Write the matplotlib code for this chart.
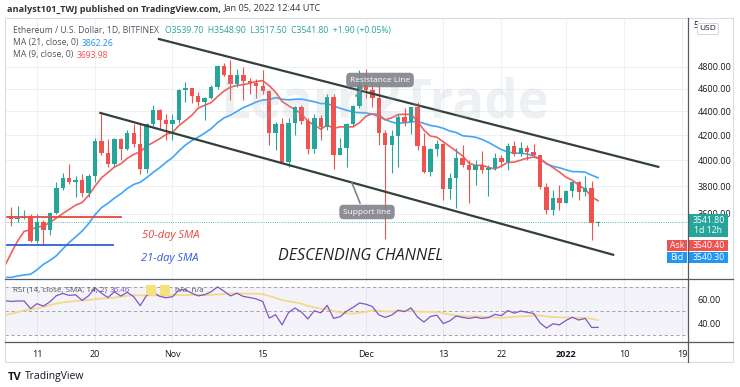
import matplotlib.pyplot as plt
import matplotlib.dates as mdates
import numpy as np
import pandas as pd
from matplotlib.patches import Rectangle
from matplotlib.lines import Line2D
from matplotlib.ticker import NullLocator

plt.rcParams['font.family'] = ['Open Sans', 'DejaVu Sans']

# closes before the visible window (Aug 16 - Oct 6), only used to warm up MA / RSI
warmup_closes = [3150, 3010, 3015, 3180, 3285, 3225, 3240, 3325, 3175, 3225, 3100, 3275,
                 3245, 3225, 3225, 3435, 3835, 3790, 3940, 3890, 3950, 3925, 3430, 3495,
                 3430, 3210, 3265, 3410, 3285, 3430, 3610,
                 3570, 3400, 3430, 3330, 2960, 2760, 3080, 3155, 2930, 2925, 3060,
                 2930, 2810, 2850, 3000, 3310, 3390, 3420, 3385, 3515, 3580]

# ETH/USD daily candles, Oct 7 2021 - Jan 6 2022
start_date = '2021-10-07'
opens = [3588, 3563, 3575, 3576, 3415, 3545, 3492, 3606, 3790, 3866, 3830, 3848, 3748, 3878, 4155, 4055, 3970, 4170, 4085, 4218, 4130, 3930, 4290, 4415, 4325,
         4290, 4325, 4590, 4605, 4535, 4480, 4520, 4620, 4810, 4730, 4640, 4730, 4670, 4650, 4625, 4580, 4215, 4290, 3985, 4300, 4440, 4320, 4090, 4340, 4270, 4525, 4040, 4100, 4295, 4445,
         4630, 4590, 4515, 4220, 4120, 4195, 4355, 4310, 4435, 4115, 3910, 4085, 4130, 3780, 3860, 4020, 3960, 3925, 3960, 3920, 3940, 4020, 3985, 4110, 4045, 4095, 4065, 4040, 3795, 3630, 3715,
         3680, 3765, 3830, 3760, 3790, 3539.7]
highs = [3653, 3657, 3630, 3600, 3600, 3555, 3615, 3830, 3900, 3970, 3880, 3890, 3890, 4180, 4375, 4170, 4175, 4175, 4240, 4290, 4300, 4300, 4460, 4420, 4380,
         4380, 4600, 4665, 4610, 4570, 4530, 4635, 4820, 4840, 4870, 4780, 4800, 4700, 4690, 4770, 4590, 4310, 4340, 4340, 4450, 4460, 4345, 4380, 4370, 4550, 4550, 4180, 4300, 4460, 4770,
         4780, 4650, 4640, 4240, 4240, 4380, 4430, 4440, 4480, 4220, 4100, 4160, 4140, 3900, 4100, 4120, 4000, 4000, 4070, 3960, 4060, 4040, 4140, 4150, 4145, 4120, 4125, 4040, 3825, 3770, 3810,
         3770, 3840, 3840, 3880, 3840, 3548.9]
lows = [3519, 3542, 3563, 3407, 3400, 3390, 3455, 3600, 3775, 3820, 3720, 3720, 3720, 3830, 4040, 3950, 3950, 4000, 4080, 4105, 3890, 3900, 4280, 4250, 4160,
        4160, 4300, 4480, 4470, 4450, 4330, 4510, 4600, 4720, 4500, 4620, 4500, 4550, 4520, 4550, 4120, 4080, 3980, 3950, 4200, 4290, 4050, 4060, 4160, 4240, 3930, 4040, 3950, 4280, 4430,
        4520, 4440, 4120, 3425, 3900, 3950, 4280, 4210, 4080, 3900, 3880, 4030, 3700, 3710, 3640, 3950, 3680, 3810, 3900, 3730, 3920, 3950, 3920, 4030, 4030, 4000, 4030, 3780, 3600, 3590, 3630,
        3680, 3720, 3700, 3730, 3420, 3517.5]
closes = [3563, 3575, 3576, 3415, 3545, 3492, 3606, 3790, 3866, 3830, 3848, 3748, 3878, 4155, 4055, 3970, 4170, 4085, 4218, 4130, 3930, 4290, 4415, 4325, 4290,
          4325, 4590, 4605, 4535, 4480, 4520, 4620, 4810, 4730, 4640, 4730, 4670, 4650, 4625, 4580, 4215, 4290, 3985, 4300, 4440, 4320, 4090, 4340, 4270, 4525, 4040, 4100, 4295, 4445, 4630,
          4590, 4515, 4220, 4120, 4195, 4355, 4310, 4435, 4115, 3910, 4085, 4130, 3780, 3860, 4020, 3960, 3925, 3960, 3920, 3940, 4020, 3985, 4110, 4045, 4095, 4065, 4040, 3795, 3630, 3715, 3680,
          3765, 3830, 3760, 3790, 3540, 3541.8]

price_ticks = [3600, 3800, 4000, 4200, 4400, 4600, 4800]
rsi_ticks = [40, 60]
date_ticks = ['2021-10-11', '2021-10-20', '2021-11-01', '2021-11-15', '2021-12-01',
              '2021-12-13', '2021-12-22', '2022-01-01', '2022-01-10', '2022-01-19']
date_labels = ['11', '20', 'Nov', '15', 'Dec', '13', '22', '2022', '10', '19']

# hand-drawn annotations (date, price)
resistance_line = (['2021-10-29 22:00', '2022-01-15 08:00'], [5070, 3948])
support_line = (['2021-10-20 20:00', '2022-01-08 08:00'], [4387, 3324])
sma50_mark = (['2021-10-06 10:00', '2021-10-24 00:00'], 3580)
sma21_mark = (['2021-10-06 10:00', '2021-10-22 20:00'], 3390)

UP, DOWN = '#26a69a', '#ef5350'
W, H = 740, 387


def rect(x0, y0, x1, y1):
    return [x0 / W, 1 - y1 / H, (x1 - x0) / W, (y1 - y0) / H]


def px(x, y):
    return x / W, 1 - y / H


dates = pd.date_range(start_date, periods=len(closes))
x = mdates.date2num(dates)
o, h, l, c = map(np.array, (opens, highs, lows, closes))

all_close = pd.Series(warmup_closes + closes, dtype=float)
n0 = len(warmup_closes)
all_x = mdates.date2num(pd.date_range(end=dates[-1], periods=len(all_close)))
ma21 = all_close.rolling(21).mean()
ma9 = all_close.rolling(9).mean()
delta = all_close.diff()
up = delta.clip(lower=0).ewm(alpha=1 / 14, adjust=False).mean()
dn = (-delta.clip(upper=0)).ewm(alpha=1 / 14, adjust=False).mean()
rsi = 100 - 100 / (1 + up / dn)
rsi_ma = rsi.rolling(14).mean()

fig = plt.figure(figsize=(7.4, 3.87), dpi=100)
fig.patch.set_facecolor('white')
renderer = fig.canvas.get_renderer()

ax = fig.add_axes(rect(5, 18, 688, 279))
ax_rsi = fig.add_axes(rect(5, 279, 688, 342), sharex=ax)

x0 = mdates.date2num(pd.Timestamp('2021-10-11')) - 4.96
ax.set_xlim(x0, x0 + 105.9)
ax.set_yscale('log')
ax.set_ylim(3170, 5283)

# grid
for t in mdates.date2num(pd.to_datetime(date_ticks)):
    ax.axvline(t, color='#eef0f3', lw=0.7, zorder=0)
    ax_rsi.axvline(t, color='#eef0f3', lw=0.7, zorder=0)
for p in price_ticks:
    ax.axhline(p, color='#eef0f3', lw=0.7, zorder=0)

# candles
colors = np.where(c >= o, UP, DOWN)
ax.vlines(x, l, h, colors=colors, lw=0.8, zorder=3)
body_lo = np.minimum(o, c)
body_h = np.maximum(np.abs(c - o), c * 0.0012)
ax.bar(x, body_h, bottom=body_lo, width=0.68, color=colors, zorder=4, linewidth=0)

# moving averages
ax.plot(all_x[n0 - 1:], ma21[n0 - 1:], color='#42a5f5', lw=1.2, zorder=2)
ax.plot(all_x[n0 - 1:], ma9[n0 - 1:], color='#f0605d', lw=1.2, zorder=2)
ax.axhline(closes[-1], color=UP, lw=0.6, ls=':', zorder=1)

# annotations
ax.plot(pd.to_datetime(resistance_line[0]), resistance_line[1], color='#33403b', lw=1.6, zorder=5)
ax.plot(pd.to_datetime(support_line[0]), support_line[1], color='#33403b', lw=1.6, zorder=5)
ax.plot(pd.to_datetime(sma50_mark[0]), [sma50_mark[1]] * 2, color='#e8483f', lw=1.3, zorder=5)
ax.plot(pd.to_datetime(sma21_mark[0]), [sma21_mark[1]] * 2, color='#2f5fd8', lw=1.3, zorder=5)

fig.text(*px(385, 103), 'Learn2Trade', fontsize=38, fontweight='bold', color='#9fb4c4',
         alpha=0.18, ha='center', va='center')
fig.text(*px(171, 235), '50-day SMA', fontsize=8, style='italic', color='#e8483f', ha='center', va='center')
fig.text(*px(170, 258), '21-day SMA', fontsize=8, style='italic', color='#2f5fd8', ha='center', va='center')
fig.text(*px(360, 256), 'DESCENDING CHANNEL', fontsize=11.5, style='italic', color='#222222',
         ha='center', va='center')

box = dict(boxstyle='round,pad=0.45,rounding_size=0.5', fc='#80838a', ec='none', alpha=0.9)
fig.text(*px(380, 80), 'Resistance Line', fontsize=6, color='white', ha='center', va='center', bbox=box)
fig.text(*px(367, 212), 'Support line', fontsize=6, color='white', ha='center', va='center', bbox=box)
fig.add_artist(Line2D([352 / W, 360 / W], [1 - 183 / H, 1 - 203 / H], color='#80838a', lw=1.2))
fig.add_artist(Line2D([356 / W, 362 / W], [1 - 96 / H, 1 - 88 / H], color='#80838a', lw=1.2))

ax.yaxis.tick_right()
ax.set_yticks(price_ticks)
ax.set_yticklabels([f'{p:.2f}' for p in price_ticks])
ax.yaxis.set_minor_locator(NullLocator())
ax.tick_params(axis='y', length=0, pad=7, labelsize=6.5, labelcolor='#131722')
ax.tick_params(axis='x', length=0, labelbottom=False)
for s in ax.spines.values():
    s.set_visible(False)

# RSI pane
ax_rsi.set_ylim(24.2, 76.7)
ax_rsi.axhspan(30, 70, color='#7e57c2', alpha=0.07, lw=0)
for lv in (70, 50, 30):
    ax_rsi.axhline(lv, color='#9598a1', lw=0.6, ls=(0, (4, 3)))
ax_rsi.plot(all_x[n0 - 1:], rsi_ma[n0 - 1:], color='#f3d98a', lw=1.3)
ax_rsi.plot(all_x[n0 - 1:], rsi[n0 - 1:], color='#7e57c2', lw=0.9)
ax_rsi.yaxis.tick_right()
ax_rsi.set_yticks(rsi_ticks)
ax_rsi.set_yticklabels([f'{v:.2f}' for v in rsi_ticks])
ax_rsi.tick_params(axis='y', length=0, pad=7, labelsize=6.5, labelcolor='#131722')
ax_rsi.set_xticks(mdates.date2num(pd.to_datetime(date_ticks)))
ax_rsi.set_xticklabels(date_labels)
ax_rsi.tick_params(axis='x', length=0, pad=6, labelsize=6.5, labelcolor='#131722')
ax_rsi.get_xticklabels()[7].set_fontweight('bold')
for s in ax_rsi.spines.values():
    s.set_visible(False)

# frame and separators
fig.add_artist(Rectangle((5 / W, 1 - 362 / H), 728 / W, 344 / H, transform=fig.transFigure,
                         fill=False, ec='#d9dce3', lw=0.8))
for yy in (279, 342):
    fig.add_artist(Line2D([5 / W, 733 / W], [1 - yy / H] * 2, color='#555a63', lw=0.9))
fig.add_artist(Line2D([688 / W] * 2, [1 - 18 / H, 1 - 362 / H], color='#555a63', lw=0.9))


def text_row(xp, yp, parts, gap=3):
    # place text pieces one after another on a row
    for s, kw in parts:
        t = fig.text(*px(xp, yp), s, va='center', **kw)
        xp = t.get_window_extent(renderer).x1 + gap


GRAY = dict(fontsize=6.2, color='#50535e')
text_row(7, 9, [('analyst101_TWJ published on TradingView.com,', dict(fontsize=6.6, fontweight='bold', color='#333333')),
                ('Jan 05, 2022 12:44 UTC', dict(fontsize=6.6, color='#333333'))], gap=3)
text_row(13, 30, [('Ethereum / U.S. Dollar, 1D, BITFINEX', GRAY),
                  ('O3539.70  H3548.90  L3517.50  C3541.80  +1.90 (+0.05%)', dict(fontsize=6.2, color=UP))], gap=6)
text_row(13, 43, [('MA (21, close, 0)', GRAY), ('3862.26', dict(fontsize=6.2, color='#2196f3'))])
text_row(13, 55, [('MA (9, close, 0)', GRAY), ('3693.98', dict(fontsize=6.2, color='#ef5350'))])
text_row(13, 290, [('RSI (14, close, SMA, 14, 2)', dict(fontsize=5.8, color='#50535e')),
                   ('36.46', dict(fontsize=5.8, color='#7e57c2'))])
for bx in (146, 160):
    fig.add_artist(Rectangle(px(bx, 295), 10 / W, 10 / H, transform=fig.transFigure,
                             fc='#f6e27a', ec='none'))
fig.text(*px(175, 290), 'n/a  n/a', fontsize=5.8, color='#50535e', va='center')

# price axis labels
fig.text(*px(693, 26), '5', fontsize=6.5, color='#131722', va='center')
fig.text(*px(708, 29), 'USD', fontsize=6, color='#131722', ha='center', va='center',
         bbox=dict(boxstyle='round,pad=0.25', fc='white', ec='#c8cbd2', lw=0.6))


def tag(x0_, y0_, x1_, y1_, color, text, fs=6.3):
    fig.add_artist(Rectangle(px(x0_, y1_), (x1_ - x0_) / W, (y1_ - y0_) / H,
                             transform=fig.transFigure, fc=color, ec='none'))
    fig.text((x0_ + x1_) / 2 / W, 1 - (y0_ + y1_) / 2 / H, text, fontsize=fs, color='white',
             ha='center', va='center', linespacing=1.1)


tag(689, 214, 728, 237, UP, '3541.80\n1d 12h')
tag(667, 240, 687, 251, DOWN, 'Ask')
tag(689, 240, 728, 251, DOWN, '3540.40')
tag(667, 252, 687, 263, '#2196f3', 'Bid')
tag(689, 252, 728, 263, '#2196f3', '3540.30')

fig.text(*px(8, 377), 'TV', fontsize=8, fontweight='bold', color='#131722', va='center')
fig.text(*px(25, 377), 'TradingView', fontsize=7.5, color='#131722', va='center')

fig.savefig('out.png', dpi=100)
